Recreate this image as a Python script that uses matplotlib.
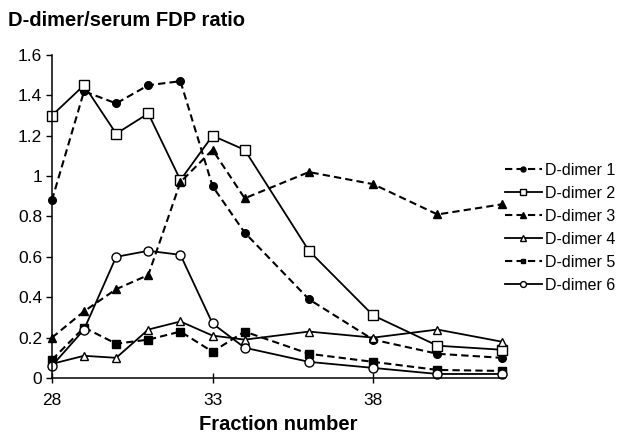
import matplotlib.pyplot as plt

plt.rcParams['font.family'] = ['Liberation Sans', 'DejaVu Sans']

fraction = [28, 29, 30, 31, 32, 33, 34, 36, 38, 40, 42]
d1 = [0.88, 1.42, 1.36, 1.45, 1.47, 0.95, 0.72, 0.39, 0.19, 0.12, 0.10]
d2 = [1.30, 1.45, 1.21, 1.31, 0.98, 1.20, 1.13, 0.63, 0.31, 0.16, 0.14]
d3 = [0.20, 0.33, 0.44, 0.51, 0.97, 1.13, 0.89, 1.02, 0.96, 0.81, 0.86]
d4 = [0.07, 0.11, 0.10, 0.24, 0.28, 0.21, 0.19, 0.23, 0.20, 0.24, 0.18]
d5 = [0.09, 0.25, 0.17, 0.19, 0.23, 0.13, 0.23, 0.12, 0.08, 0.04, 0.035]
d6 = [0.06, 0.24, 0.60, 0.63, 0.61, 0.27, 0.15, 0.08, 0.05, 0.02, 0.02]
labels = ['D-dimer 1', 'D-dimer 2', 'D-dimer 3', 'D-dimer 4', 'D-dimer 5', 'D-dimer 6']

fig = plt.figure(figsize=(6.18, 4.36), dpi=100)
ax = fig.add_axes([0.084, 0.133, 0.733, 0.741])

dash = (0, (3.5, 2))
ax.plot(fraction, d1, color='black', linestyle=dash, lw=1.5, marker='o', ms=5.5, mfc='black', label=labels[0])
ax.plot(fraction, d2, color='black', linestyle='-', lw=1.3, marker='s', ms=6.5, mfc='white', label=labels[1])
ax.plot(fraction, d3, color='black', linestyle=dash, lw=1.5, marker='^', ms=6, mfc='black', label=labels[2])
ax.plot(fraction, d4, color='black', linestyle='-', lw=1.3, marker='^', ms=6, mfc='white', label=labels[3])
ax.plot(fraction, d5, color='black', linestyle=dash, lw=1.5, marker='s', ms=5.5, mfc='black', label=labels[4])
ax.plot(fraction, d6, color='black', linestyle='-', lw=1.3, marker='o', ms=6.5, mfc='white', label=labels[5])

ax.set_xlim(28, 42.1)
ax.set_ylim(0, 1.6)
ax.set_xticks([28, 33, 38])
ax.set_yticks([0, 0.2, 0.4, 0.6, 0.8, 1.0, 1.2, 1.4, 1.6])
ax.set_yticklabels(['0', '0.2', '0.4', '0.6', '0.8', '1', '1.2', '1.4', '1.6'])
ax.tick_params(axis='both', labelsize=12.5, color='black', width=1)
ax.tick_params(axis='x', direction='inout', length=7, pad=7)
ax.tick_params(axis='y', direction='out', length=4, pad=3)
for s in ['top', 'right']:
    ax.spines[s].set_visible(False)
for s in ['left', 'bottom']:
    ax.spines[s].set_linewidth(1.1)
for line in ax.get_lines():
    line.set_clip_on(False)

ax.set_xlabel('Fraction number', fontsize=14.5, fontweight='bold', labelpad=5)
fig.text(0.013, 0.94, 'D-dimer/serum FDP ratio', fontsize=14.5, fontweight='bold')

fig.legend(loc='center left', bbox_to_anchor=(0.807, 0.477), frameon=False,
           borderaxespad=0, fontsize=11.5, handlelength=2.3, handletextpad=0.2,
           labelspacing=0.5, markerscale=0.65)

fig.savefig('out.png', dpi=100)
